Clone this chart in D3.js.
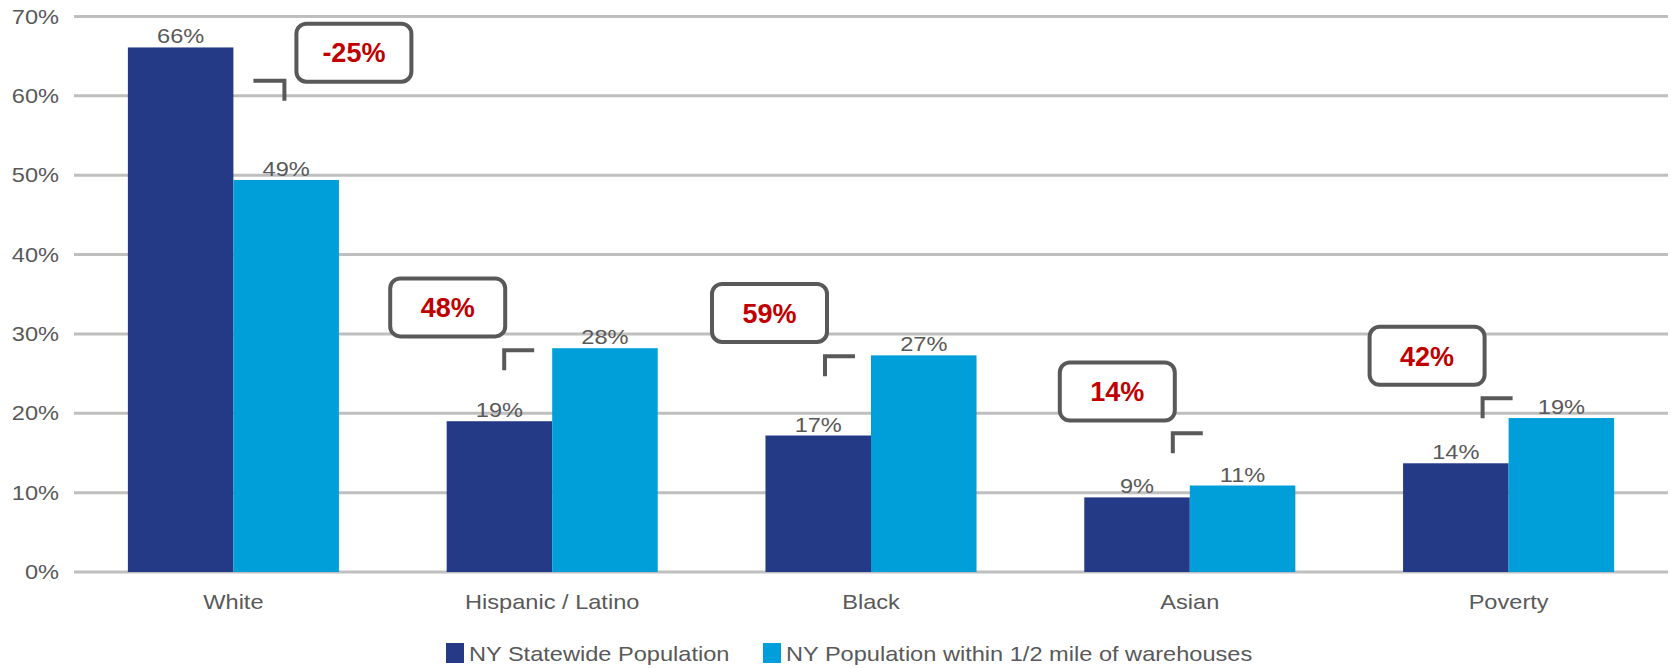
<!DOCTYPE html>
<html>
<head>
<meta charset="utf-8">
<script src="https://cdn.jsdelivr.net/npm/d3@7"></script>
<style>
  html, body { margin: 0; padding: 0; background: #fff; }
  svg { display: block; font-family: "Liberation Sans", Arial, sans-serif; }
</style>
</head>
<body>
<svg id="chart" width="1671" height="668"></svg>
<script>
// data
const categories = ['White', 'Hispanic / Latino', 'Black', 'Asian', 'Poverty'];
const seriesNames = ['NY Statewide Population', 'NY Population within 1/2 mile of warehouses'];
const statewide = [66.1, 19.0, 17.2, 9.4, 13.7];
const nearWarehouses = [49.4, 28.2, 27.3, 10.9, 19.4];
const changeLabels = ['-25%', '48%', '59%', '14%', '42%'];
const yTicks = [0, 10, 20, 30, 40, 50, 60, 70];

// callout placement (px offsets from category centre, heights in % units)
const calloutLayout = [
  { bx: 63,   top: 69.1, cx: 51,  cy: 61.9, hook: 'left' },
  { bx: -162, top: 37.0, cx: -48, cy: 27.95, hook: 'right' },
  { bx: -159, top: 36.3, cx: -46, cy: 27.2, hook: 'right' },
  { bx: -130, top: 26.4, cx: -17, cy: 17.5, hook: 'right' },
  { bx: -139, top: 30.9, cx: -26, cy: 21.9, hook: 'right' }
];

const colors = ['#243a86', '#019fda'];
const textGrey = '#595959';
const stretch = 1.18; // chart text in the original is a bit wide

const svg = d3.select('#chart');

const x = d3.scaleBand().domain(categories).range([74, 1668])
  .paddingInner(0.338).paddingOuter(0.169);
const xSub = d3.scaleBand().domain([0, 1]).range([0, x.bandwidth()]);
const y = d3.scaleLinear().domain([0, 70]).range([572, 16.5]);

// grey text helper: place at (px, py) and widen horizontally
function greyText(sel, px, py) {
  return sel
    .attr('transform', (d, i) => `translate(${px(d, i)},${py(d, i)}) scale(${stretch},1)`)
    .attr('fill', textGrey)
    .style('font-size', '20px');
}

// gridlines
svg.append('g')
  .selectAll('line')
  .data(yTicks)
  .join('line')
  .attr('x1', 74).attr('x2', 1668)
  .attr('y1', d => y(d)).attr('y2', d => y(d))
  .attr('stroke', '#bfbfbf')
  .attr('stroke-width', 3);

// y axis labels
svg.append('g')
  .selectAll('text')
  .data(yTicks)
  .join('text')
  .call(greyText, () => 59, d => y(d))
  .attr('dy', '0.36em')
  .attr('text-anchor', 'end')
  .text(d => d + '%');

// bars
const rows = categories.map((c, i) => ({ cat: c, vals: [statewide[i], nearWarehouses[i]] }));
const groups = svg.append('g')
  .selectAll('g')
  .data(rows)
  .join('g')
  .attr('transform', d => `translate(${x(d.cat)},0)`);

groups.selectAll('rect')
  .data(d => d.vals.map((v, k) => ({ v, k })))
  .join('rect')
  .attr('x', d => xSub(d.k))
  .attr('width', xSub.bandwidth())
  .attr('y', d => y(d.v))
  .attr('height', d => y(0) - y(d.v))
  .attr('fill', d => colors[d.k]);

groups.selectAll('text')
  .data(d => d.vals.map((v, k) => ({ v, k })))
  .join('text')
  .call(greyText, d => xSub(d.k) + xSub.bandwidth() / 2, d => y(d.v) - 4)
  .attr('text-anchor', 'middle')
  .text(d => Math.round(d.v) + '%');

// x axis labels
svg.append('g')
  .selectAll('text')
  .data(categories)
  .join('text')
  .call(greyText, d => x(d) + x.bandwidth() / 2, () => 609)
  .attr('text-anchor', 'middle')
  .text(d => d);

// callouts
const boxW = 115, boxH = 58;
const callouts = svg.append('g')
  .selectAll('g')
  .data(categories.map((c, i) => ({ cat: c, label: changeLabels[i], lay: calloutLayout[i] })))
  .join('g');

callouts.append('rect')
  .attr('x', d => x(d.cat) + x.bandwidth() / 2 + d.lay.bx)
  .attr('y', d => y(d.lay.top))
  .attr('width', boxW)
  .attr('height', boxH)
  .attr('rx', 10)
  .attr('fill', '#fff')
  .attr('stroke', textGrey)
  .attr('stroke-width', 4);

callouts.append('text')
  .attr('x', d => x(d.cat) + x.bandwidth() / 2 + d.lay.bx + boxW / 2)
  .attr('y', d => y(d.lay.top) + boxH / 2)
  .attr('dy', '0.36em')
  .attr('text-anchor', 'middle')
  .attr('fill', '#c00000')
  .style('font-size', '27px')
  .style('font-weight', 'bold')
  .text(d => d.label);

callouts.append('path')
  .attr('fill', 'none')
  .attr('stroke', textGrey)
  .attr('stroke-width', 4)
  .attr('d', d => {
    const cx = x(d.cat) + x.bandwidth() / 2 + d.lay.cx;
    const cy = y(d.lay.cy);
    return d.lay.hook === 'left'
      ? `M${cx - 31},${cy}H${cx}V${cy + 20}`
      : `M${cx},${cy + 20}V${cy}H${cx + 30}`;
  });

// legend
const legendX = [446, 763];
const legend = svg.append('g')
  .selectAll('g')
  .data(seriesNames)
  .join('g')
  .attr('transform', (d, i) => `translate(${legendX[i]},643)`);
legend.append('rect')
  .attr('width', 18).attr('height', 20)
  .attr('fill', (d, i) => colors[i]);
legend.append('text')
  .call(greyText, () => 23, () => 18)
  .text(d => d);
</script>
</body>
</html>
